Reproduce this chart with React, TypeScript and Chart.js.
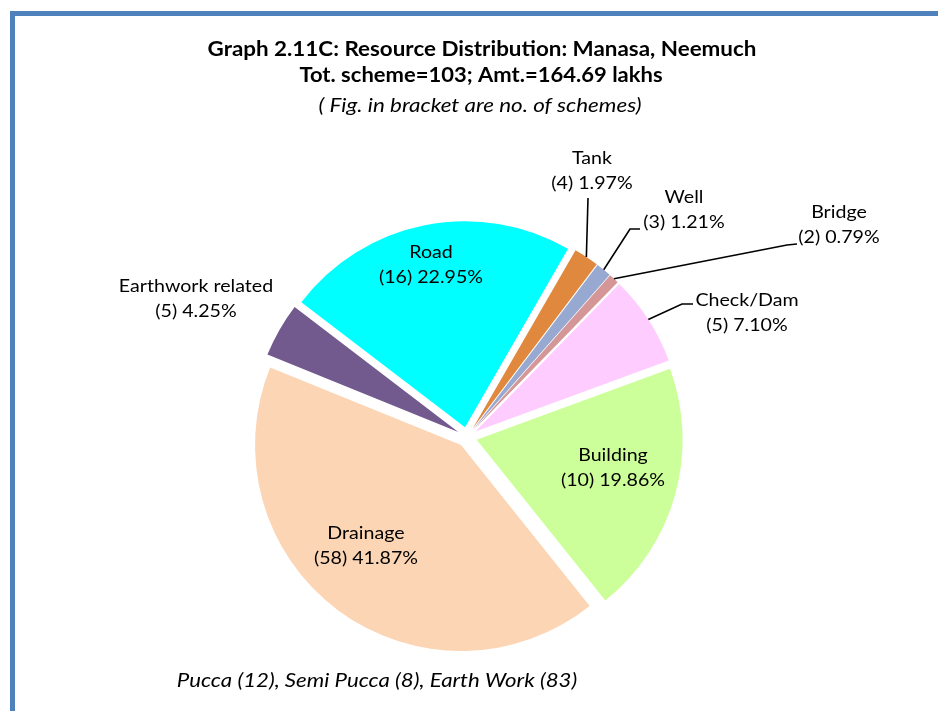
import React, { useEffect, useRef } from 'react';
import { Chart, registerables } from 'chart.js';

Chart.register(...registerables);

// ---------- data ----------
const categories = ['Tank', 'Well', 'Bridge', 'Check/Dam', 'Building', 'Drainage', 'Earthwork related', 'Road'];
const schemeCounts = [4, 3, 2, 5, 10, 58, 5, 16];
const sharePercent = [1.97, 1.21, 0.79, 7.1, 19.86, 41.87, 4.25, 22.95];
const sliceColors = ['#E0883E', '#97A9D1', '#D49696', '#FFCCFF', '#CCFF99', '#FCD5B4', '#725A8F', '#00FFFF'];

const titleLines = ['Graph 2.11C: Resource Distribution: Manasa, Neemuch', 'Tot. scheme=103; Amt.=164.69 lakhs'];
const subtitleText = '( Fig. in bracket are no. of schemes)';
const footerText = 'Pucca (12), Semi Pucca (8), Earth Work (83)';

// ---------- layout / style ----------
const W = 938;
const H = 711;
const RADIUS = 206;
const EXPLODE = 10;
const FONT = 'Lato, "Open Sans", sans-serif';
const LABEL_FONT = `18px ${FONT}`;
const LABEL_SX = 1.09;
const LINE_GAP = 25;

// label anchors relative to pie centre: [dx (text centre), dy (first baseline)]
// leader: points relative to pie centre, then ends at the slice edge
const labelLayout: { dx: number; dy: number; leader?: number[][] }[] = [
  { dx: 125, dy: -273, leader: [[121, -239]] },
  { dx: 217, dy: -234, leader: [[173, -208], [163, -208]] },
  { dx: 372, dy: -219, leader: [[330, -193], [320, -192]] },
  { dx: 280, dy: -131, leader: [[226, -133], [215, -133]] },
  { dx: 146, dy: 24 },
  { dx: -101, dy: 102 },
  { dx: -271, dy: -145 },
  { dx: -36, dy: -179 },
];

function drawText(ctx: CanvasRenderingContext2D, text: string, x: number, y: number, sx: number) {
  ctx.save();
  ctx.translate(x, y);
  ctx.scale(sx, 1);
  ctx.fillText(text, 0, 0);
  ctx.restore();
}

const explodePlugin = {
  id: 'explodeSlices',
  beforeDatasetDraw(chart: any, args: any) {
    const ctx = chart.ctx;
    args.meta.data.forEach((arc: any) => {
      const mid = (arc.startAngle + arc.endAngle) / 2;
      ctx.save();
      ctx.translate(Math.cos(mid) * EXPLODE, Math.sin(mid) * EXPLODE);
      arc.draw(ctx);
      ctx.restore();
    });
    return false;
  },
};

const decorPlugin = {
  id: 'decor',
  afterDraw(chart: any) {
    const ctx = chart.ctx as CanvasRenderingContext2D;
    const arcs = chart.getDatasetMeta(0).data;
    const cx = arcs[0].x;
    const cy = arcs[0].y;
    ctx.save();
    // frame
    ctx.fillStyle = '#4F81BD';
    ctx.fillRect(10, 11, W - 10, 5);
    ctx.fillRect(10, 11, 5, H - 11);

    ctx.fillStyle = '#000';
    ctx.textAlign = 'center';
    ctx.textBaseline = 'alphabetic';
    ctx.font = `bold 20px ${FONT}`;
    drawText(ctx, titleLines[0], 482, 56, 1.12);
    drawText(ctx, titleLines[1], 481, 82, 1.1);
    ctx.font = `italic 19px ${FONT}`;
    drawText(ctx, subtitleText, 480, 112, 1.18);
    drawText(ctx, footerText, 377, 687, 1.17);

    // labels
    ctx.font = LABEL_FONT;
    categories.forEach((name, i) => {
      const lay = labelLayout[i];
      const x = cx + lay.dx;
      const y = cy + lay.dy;
      drawText(ctx, name, x, y, LABEL_SX);
      drawText(ctx, `(${schemeCounts[i]}) ${sharePercent[i].toFixed(2)}%`, x, y + LINE_GAP, LABEL_SX);
      if (lay.leader) {
        const arc = arcs[i];
        const mid = (arc.startAngle + arc.endAngle) / 2;
        const r = arc.outerRadius + EXPLODE;
        const ex = arc.x + Math.cos(mid) * r;
        const ey = arc.y + Math.sin(mid) * r;
        ctx.beginPath();
        ctx.lineWidth = 1.6;
        ctx.strokeStyle = '#000';
        lay.leader.forEach((p, k) => {
          if (k === 0) ctx.moveTo(cx + p[0], cy + p[1]);
          else ctx.lineTo(cx + p[0], cy + p[1]);
        });
        ctx.lineTo(ex, ey);
        ctx.stroke();
      }
    });
    ctx.restore();
  },
};

export default function App() {
  const ref = useRef<HTMLCanvasElement>(null);
  useEffect(() => {
    const chart = new Chart(ref.current as HTMLCanvasElement, {
      type: 'pie',
      data: {
        labels: categories,
        datasets: [
          {
            data: sharePercent,
            backgroundColor: sliceColors,
            borderWidth: 0,
          },
        ],
      },
      options: {
        responsive: false,
        animation: false,
        rotation: 30,
        radius: RADIUS,
        layout: { padding: { left: 40, right: 44, top: 200, bottom: 37 } },
        plugins: {
          legend: { display: false },
          tooltip: { enabled: false },
          title: { display: false },
        },
      } as any,
      plugins: [explodePlugin, decorPlugin],
    });
    return () => chart.destroy();
  }, []);
  return (
    <div style={{ position: 'absolute', left: 0, top: 0, width: W, height: H, background: '#fff' }}>
      <canvas ref={ref} width={W} height={H} style={{ display: 'block', width: W, height: H }} />
    </div>
  );
}
